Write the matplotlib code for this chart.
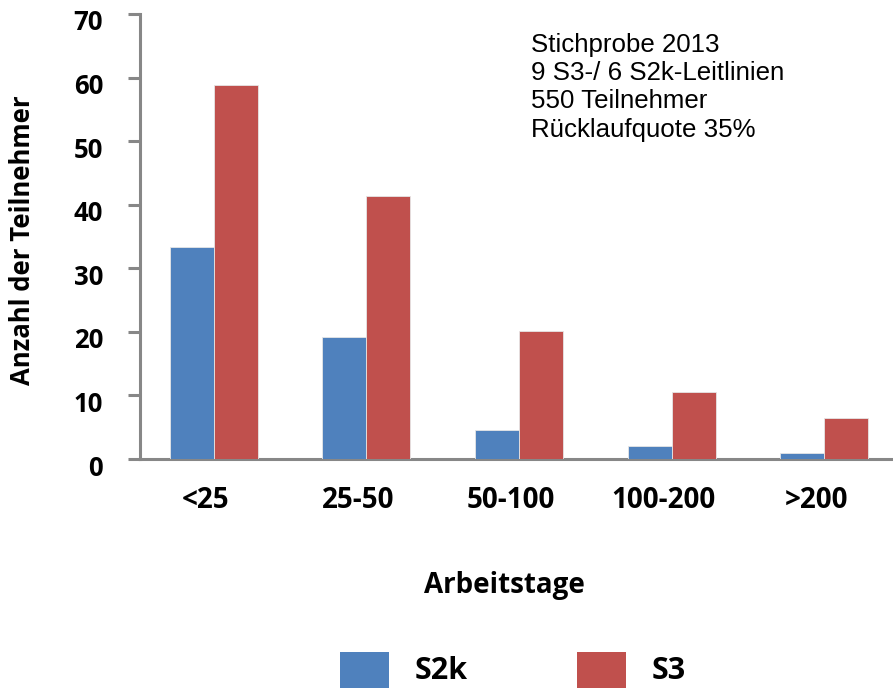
import matplotlib
matplotlib.use("Agg")
import matplotlib.pyplot as plt
from matplotlib.patches import Rectangle
from matplotlib.transforms import ScaledTranslation
import numpy as np

# Teilnehmer je Arbeitstage-Klasse
kategorien = ["<25", "25-50", "50-100", "100-200", ">200"]
s2k = [33.4, 19.2, 4.5, 2.0, 1.0]
s3 = [58.9, 41.3, 20.2, 10.5, 6.4]
y_ticks = [0, 10, 20, 30, 40, 50, 60, 70]
info_zeilen = ["Stichprobe 2013", "9 S3-/ 6 S2k-Leitlinien",
               "550 Teilnehmer", "Rücklaufquote 35%"]

blau = "#4F81BD"
rot = "#C0504D"
grau = "#878787"
bold_font = ["Open Sans", "DejaVu Sans"]

W, H = 893, 688
fig = plt.figure(figsize=(W / 100, H / 100), dpi=100)
ax = fig.add_axes([140 / W, (H - 459) / H, 760.8 / W, 445 / H])

x = np.arange(len(kategorien))
bw = 0.288
ax.bar(x - bw, s2k, bw, align="edge", color=blau, edgecolor="#e6e6e6", linewidth=0.6)
ax.bar(x, s3, bw, align="edge", color=rot, edgecolor="#e6e6e6", linewidth=0.6)

ax.set_xlim(-0.4826, 4.5)
ax.set_ylim(0, 70)
ax.set_yticks(y_ticks)
ax.set_xticks(x)
ax.set_xticklabels(kategorien, fontfamily=bold_font, fontweight="bold", fontsize=20)
ax.set_yticklabels([str(v) for v in y_ticks], fontfamily=bold_font, fontweight="bold", fontsize=18.5)

for side in ["top", "right"]:
    ax.spines[side].set_visible(False)
for side in ["left", "bottom"]:
    ax.spines[side].set_color(grau)
    ax.spines[side].set_linewidth(2.2)
ax.spines["bottom"].set_zorder(0.5)

ax.tick_params(axis="y", direction="out", length=8.6, width=2.2, color=grau, pad=18)
ax.tick_params(axis="x", length=0, pad=19.5)

# Achsenbeschriftungen leicht versetzt
versatz_y = ScaledTranslation(0, -6 / 100, fig.dpi_scale_trans)
for lbl in ax.get_yticklabels():
    lbl.set_transform(lbl.get_transform() + versatz_y)
versatz_x = ScaledTranslation(-8 / 100, 0, fig.dpi_scale_trans)
for lbl in ax.get_xticklabels():
    lbl.set_transform(lbl.get_transform() + versatz_x)

fig.text(23 / W, 1 - 240 / H, "Anzahl der Teilnehmer", rotation=90,
         ha="center", va="center", fontfamily=bold_font, fontweight="bold", fontsize=18.5)
fig.text(504 / W, 1 - 593 / H, "Arbeitstage", ha="center", va="baseline",
         fontfamily=bold_font, fontweight="bold", fontsize=20)

for i, zeile in enumerate(info_zeilen):
    fig.text(531 / W, 1 - (51.7 + 28.3 * i) / H, zeile, ha="left", va="baseline",
             fontfamily="Liberation Sans", fontsize=18.6)

# Legende
for x0, farbe, name in [(340, blau, "S2k"), (577, rot, "S3")]:
    fig.add_artist(Rectangle((x0 / W, 1 - 701 / H), 49 / W, 49 / H,
                             transform=fig.transFigure, facecolor=farbe, edgecolor="none"))
    fig.text((x0 + 75) / W, 1 - 679 / H, name, ha="left", va="baseline",
             fontfamily=bold_font, fontweight="bold", fontsize=22)

fig.savefig("out.png", dpi=100)
